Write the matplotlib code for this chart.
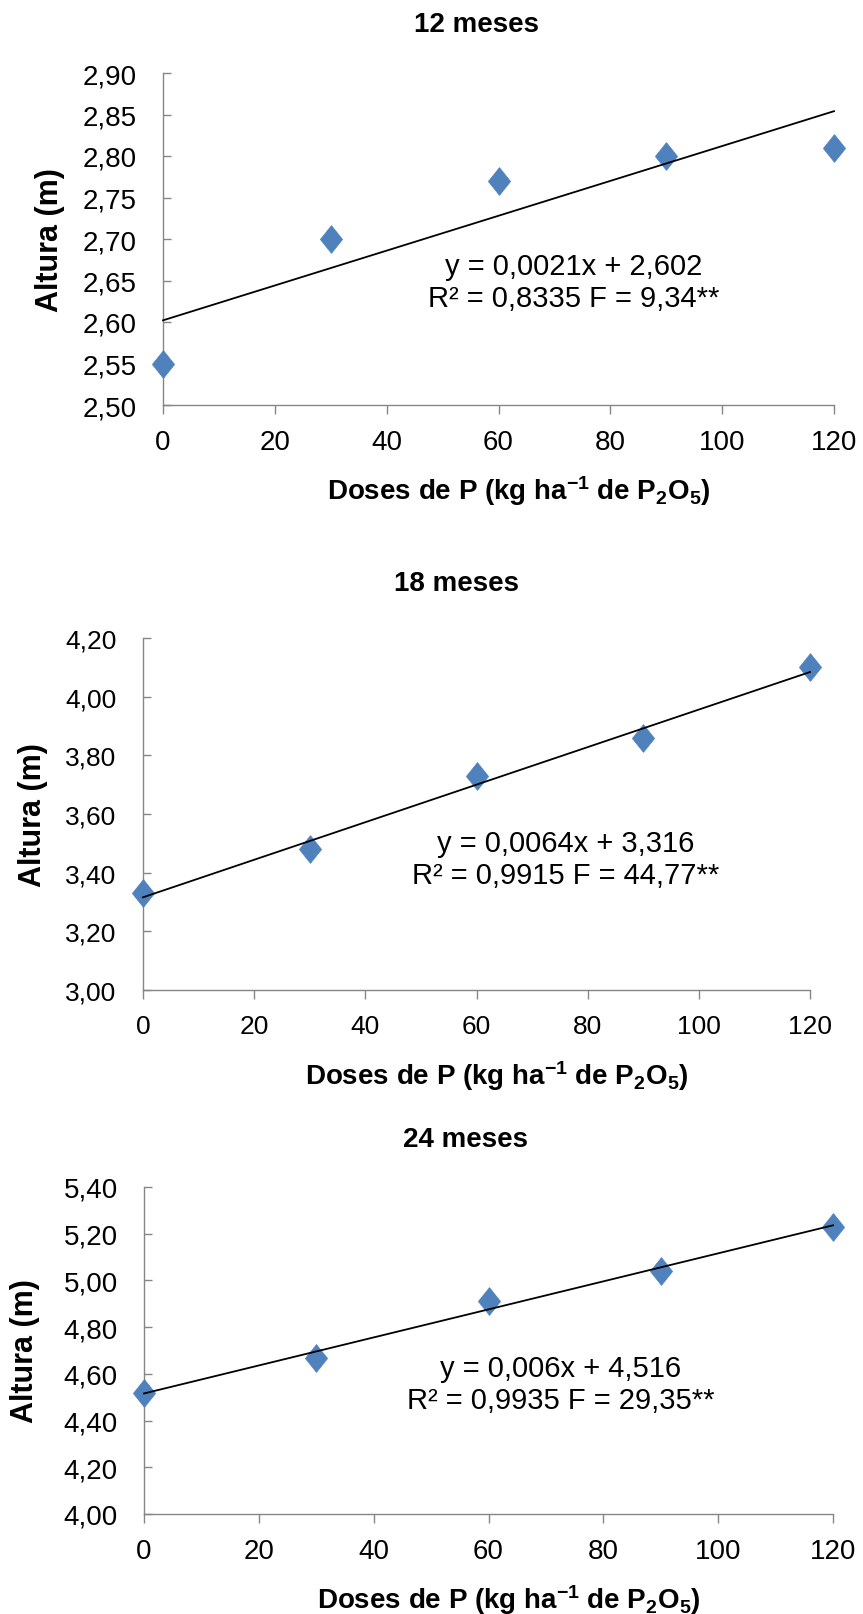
import matplotlib
matplotlib.use("Agg")
import matplotlib.pyplot as plt
from matplotlib.path import Path
import numpy as np

plt.rcParams['font.family'] = ['Liberation Sans', 'DejaVu Sans']
plt.rcParams['mathtext.fontset'] = 'custom'
plt.rcParams['mathtext.rm'] = 'Liberation Sans:bold'
plt.rcParams['mathtext.it'] = 'Liberation Sans:bold'
plt.rcParams['mathtext.bf'] = 'Liberation Sans:bold'
plt.rcParams['mathtext.default'] = 'rm'

# data
doses = [0, 30, 60, 90, 120]
altura_12 = [2.55, 2.70, 2.77, 2.80, 2.81]
altura_18 = [3.33, 3.48, 3.73, 3.86, 4.10]
altura_24 = [4.52, 4.67, 4.91, 5.04, 5.23]

titles = ['12 meses', '18 meses', '24 meses']
slopes = [0.0021, 0.0064, 0.006]
intercepts = [2.602, 3.316, 4.516]
equations = ['y = 0,0021x + 2,602\nR² = 0,8335 F = 9,34**',
             'y = 0,0064x + 3,316\nR² = 0,9915 F = 44,77**',
             'y = 0,006x + 4,516\nR² = 0,9935 F = 29,35**']

xticks = [0, 20, 40, 60, 80, 100, 120]
yticks_12 = [2.50, 2.55, 2.60, 2.65, 2.70, 2.75, 2.80, 2.85, 2.90]
yticks_18 = [3.00, 3.20, 3.40, 3.60, 3.80, 4.00, 4.20]
yticks_24 = [4.00, 4.20, 4.40, 4.60, 4.80, 5.00, 5.20, 5.40]

W, H = 863, 1615
fig = plt.figure(figsize=(W / 100, H / 100), dpi=100)

# excel-like diamond, a bit taller than wide
diamond = Path([(0, 1), (0.8, 0), (0, -1), (-0.8, 0), (0, 1)],
               [Path.MOVETO, Path.LINETO, Path.LINETO, Path.LINETO, Path.CLOSEPOLY])

# layout in pixels: axes box (left, top, right, bottom), title, ylabel, xlabel, equation
panels = [
    dict(box=(163, 74, 834, 406), title=(476, 25), ylab=(50, 240), xlab=(519, 491), eq=(0.612, 0.370), tick=20),
    dict(box=(143, 639, 810, 991), title=(456, 584), ylab=(33, 815), xlab=(497, 1076), eq=(0.633, 0.372), tick=19),
    dict(box=(144, 1188, 833, 1515), title=(465, 1140), ylab=(25, 1351), xlab=(509, 1600), eq=(0.605, 0.398), tick=20),
]
series = [altura_12, altura_18, altura_24]
yticks_all = [yticks_12, yticks_18, yticks_24]
gray = '#868686'
blue = '#4F81BD'

for i, p in enumerate(panels):
    l, t, r, b = p['box']
    ax = fig.add_axes([l / W, 1 - b / H, (r - l) / W, (b - t) / H])
    yt = yticks_all[i]

    ax.plot(doses, series[i], linestyle='none', marker=diamond, markersize=20,
            color=blue, markeredgecolor=blue, markeredgewidth=0.5, zorder=2)
    xs = np.array([doses[0], doses[-1]])
    ax.plot(xs, slopes[i] * xs + intercepts[i], color='black', lw=1.3, zorder=3)

    ax.set_xlim(0, 120)
    ax.set_ylim(yt[0], yt[-1])
    ax.set_xticks(xticks)
    ax.set_xticklabels([str(v) for v in xticks])
    ax.set_yticks(yt)
    ax.set_yticklabels([f'{v:.2f}'.replace('.', ',') for v in yt])

    for s in ['top', 'right']:
        ax.spines[s].set_visible(False)
    for s in ['left', 'bottom']:
        ax.spines[s].set_color(gray)
        ax.spines[s].set_linewidth(1.0)
    ax.spines['left'].set_zorder(1)
    ax.tick_params(axis='x', direction='out', length=6.5, width=1.0, color=gray,
                   pad=11, labelsize=p['tick'])
    ax.tick_params(axis='y', direction='in', length=6, width=1.0, color=gray,
                   pad=19, labelsize=p['tick'])
    for line in ax.lines:
        line.set_clip_on(False)

    ax.text(p['eq'][0], p['eq'][1], equations[i], transform=ax.transAxes,
            ha='center', va='center', fontsize=21, linespacing=1.2)

    fig.text(p['title'][0] / W, 1 - p['title'][1] / H, titles[i],
             ha='center', va='center', fontsize=20, fontweight='bold')
    fig.text(p['ylab'][0] / W, 1 - p['ylab'][1] / H, 'Altura (m)', rotation=90,
             ha='center', va='center', fontsize=22, fontweight='bold')
    fig.text(p['xlab'][0] / W, 1 - p['xlab'][1] / H,
             r'Doses de P (kg ha$^{-1}$ de P$_2$O$_5$)',
             ha='center', va='center', fontsize=20, fontweight='bold')

fig.savefig('out.png', dpi=100)
